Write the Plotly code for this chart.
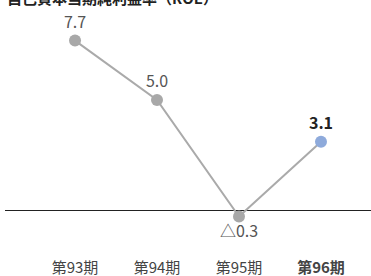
import plotly.graph_objects as go

periods = ["第93期", "第94期", "第95期", "第96期"]
roe = [7.7, 5.0, -0.3, 3.1]
labels = ["7.7", "5.0", "△0.3", "3.1"]
title_text = "自己資本当期純利益率（ROE）"

xs = list(range(len(periods)))
FONT = "Noto Sans CJK JP"

fig = go.Figure()
fig.add_trace(go.Scatter(
    x=xs, y=roe, mode="lines",
    line=dict(color="#aaaaaa", width=2),
    hoverinfo="skip", showlegend=False,
))
marker_colors = ["#a8a8a8"] * (len(xs) - 1) + ["#8eaadb"]
text_pos = ["top center" if v >= 0 else "bottom center" for v in roe]
text_colors = ["#555555"] * (len(xs) - 1) + ["#222222"]
fig.add_trace(go.Scatter(
    x=xs, y=roe, mode="markers+text",
    marker=dict(color=marker_colors, size=12),
    text=[l if i < len(xs) - 1 else "<b>" + l + "</b>" for i, l in enumerate(labels)],
    textposition=text_pos,
    textfont=dict(family=FONT, size=16, color=text_colors),
    cliponaxis=False, showlegend=False,
))

ticktext = [p for p in periods[:-1]] + ["<b>" + periods[-1] + "</b>"]

fig.update_layout(
    width=371, height=276,
    margin=dict(l=5, r=0, t=10, b=24),
    paper_bgcolor="white", plot_bgcolor="white",
    font=dict(family=FONT),
    xaxis=dict(
        range=[-0.854, 3.61], tickvals=xs, ticktext=ticktext,
        showgrid=False, zeroline=False, showline=False, ticks="",
        tickfont=dict(family=FONT, size=15, color="#444444"),
        ticklabelstandoff=5,
        fixedrange=True, automargin=False,
    ),
    yaxis=dict(
        range=[-1.909, 9.09], showgrid=False, showticklabels=False,
        zeroline=True, zerolinecolor="#222222", zerolinewidth=1,
        showline=False, ticks="", fixedrange=True, automargin=False,
    ),
    annotations=[dict(
        text="<b>" + title_text + "</b>", xref="paper", yref="paper",
        x=0, y=1, xanchor="left", yanchor="bottom", yshift=0,
        showarrow=False, font=dict(family=FONT, size=15, color="#222222"),
    )],
)

fig.write_html(
    "out.html",
    config={"displayModeBar": False},
    post_script="document.body.style.margin='0';document.body.style.overflow='hidden';",
)
